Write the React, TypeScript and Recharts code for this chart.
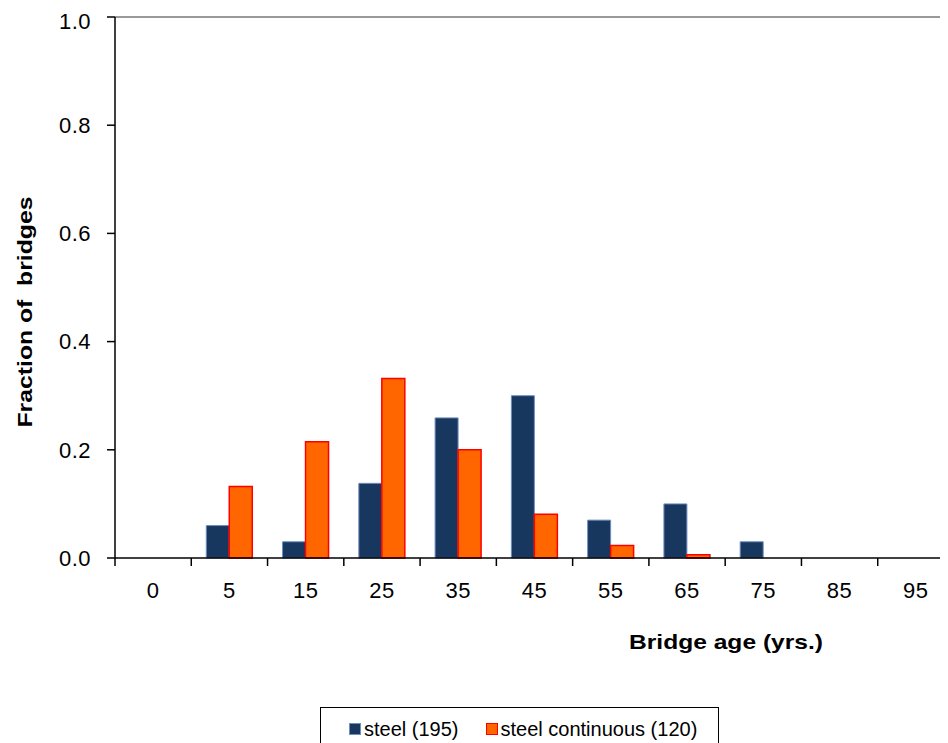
import { Bar, BarChart, Label, Legend, ReferenceLine, XAxis, YAxis } from "recharts";

const ages = ["0", "5", "15", "25", "35", "45", "55", "65", "75", "85", "95"];
const steel = [0, 0.06, 0.03, 0.138, 0.259, 0.3, 0.07, 0.1, 0.03, 0, 0];
const steelContinuous = [0, 0.132, 0.215, 0.332, 0.2, 0.081, 0.023, 0.006, 0, 0, 0];
const yTicks = [0, 0.2, 0.4, 0.6, 0.8, 1.0];

const data = ages.map((age, i) => ({
  age,
  steel: steel[i],
  steelContinuous: steelContinuous[i],
}));

const font = "'Liberation Sans', Arial, sans-serif";

function AgeTick(props: any) {
  const { x, y, payload } = props;
  const half = payload?.offset ?? 38;
  return (
    <g>
      <line x1={x - half} x2={x - half} y1={y - 8} y2={y} stroke="#000" strokeWidth={1.5} />
      <text x={x} y={y + 32} textAnchor="middle" fontSize={22} letterSpacing={0.5} fontFamily={font} fill="#000">
        {payload.value}
      </text>
    </g>
  );
}

function LegendBox() {
  const item = (fill: string, stroke: string, text: string, gap: number) => (
    <span style={{ display: "inline-flex", alignItems: "center", marginRight: gap }}>
      <span
        style={{
          display: "inline-block",
          width: 10,
          height: 10,
          background: fill,
          border: `1px solid ${stroke}`,
          marginRight: 3,
        }}
      />
      <span>{text}</span>
    </span>
  );
  return (
    <div
      style={{
        border: "1px solid #000",
        height: 44,
        boxSizing: "border-box",
        paddingTop: 9,
        paddingLeft: 28,
        fontFamily: font,
        fontSize: 20,
        color: "#000",
        whiteSpace: "nowrap",
        background: "#fff",
      }}
    >
      {item("#17375E", "#6F8FBF", "steel (195)", 27)}
      {item("#FF6600", "#FF0000", "steel continuous (120)", 0)}
    </div>
  );
}

export default function App() {
  return (
    <div style={{ width: 932, height: 735, overflow: "hidden", position: "relative" }}>
      <BarChart
        width={960}
        height={735}
        data={data}
        margin={{ top: 9, right: 14, bottom: 125, left: 0 }}
        barSize={23}
        barGap={0}
      >
        <ReferenceLine y={1} stroke="#999" strokeWidth={2} ifOverflow="visible" />
        <XAxis
          dataKey="age"
          height={60}
          tickLine={false}
          tickSize={8}
          tickMargin={0}
          tick={<AgeTick />}
          interval={0}
          axisLine={{ stroke: "#000", strokeWidth: 1.5 }}
        >
          <Label
            content={() => (
              <text
                x={718}
                y={641}
                textAnchor="middle"
                fontSize={21}
                fontWeight="bold"
                fontFamily={font}
                fill="#000"
                textLength={194}
                lengthAdjust="spacingAndGlyphs"
              >
                Bridge age (yrs.)
              </text>
            )}
          />
        </XAxis>
        <YAxis
          width={107}
          domain={[0, 1]}
          ticks={yTicks}
          tickFormatter={(v: number) => v.toFixed(1)}
          tickSize={8}
          tickMargin={16}
          tick={{ fontSize: 22, fontFamily: font, fill: "#000", letterSpacing: 0.5 }}
          tickLine={{ stroke: "#000", strokeWidth: 1.5 }}
          axisLine={{ stroke: "#000", strokeWidth: 1.5 }}
        >
          <Label
            content={() => (
              <text
                x={24}
                y={304}
                transform="rotate(-90, 24, 304)"
                textAnchor="middle"
                fontSize={21}
                fontWeight="bold"
                fontFamily={font}
                fill="#000"
                textLength={231}
                lengthAdjust="spacingAndGlyphs"
                style={{ whiteSpace: "pre" }}
              >
                {"Fraction of  bridges"}
              </text>
            )}
          />
        </YAxis>
        <Legend
          layout="horizontal"
          verticalAlign="middle"
          align="center"
          content={<LegendBox />}
          wrapperStyle={{ top: 699, left: 312, width: 399, height: 44 }}
        />
        <Bar dataKey="steel" name="steel (195)" fill="#17375E" stroke="#6F8FBF" strokeWidth={1} isAnimationActive={false} />
        <Bar
          dataKey="steelContinuous"
          name="steel continuous (120)"
          fill="#FF6600"
          stroke="#FF0000"
          strokeWidth={1.5}
          isAnimationActive={false}
        />
      </BarChart>
    </div>
  );
}
